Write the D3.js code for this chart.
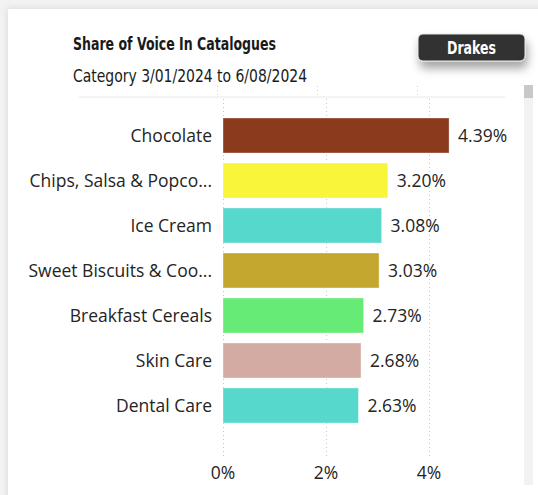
<!DOCTYPE html>
<html>
<head>
<meta charset="utf-8">
<script src="https://cdn.jsdelivr.net/npm/d3@7/dist/d3.min.js"></script>
<style>
  html, body { margin: 0; padding: 0; background: #f2f2f2; }
  svg { display: block; }
</style>
</head>
<body>
<svg id="chart" width="538" height="495"></svg>
<script>
// Share of voice by category
const categories = [
  "Chocolate",
  "Chips, Salsa & Popco...",
  "Ice Cream",
  "Sweet Biscuits & Coo...",
  "Breakfast Cereals",
  "Skin Care",
  "Dental Care"
];
const shares = [4.39, 3.20, 3.08, 3.03, 2.73, 2.68, 2.63];
const barColors = ["#8B3A1E", "#F9F53A", "#56D8CD", "#C4A72F", "#66EB76", "#D4ABA3", "#56D8CD"];
const tickValues = [0, 2, 4];
const tickLabels = ["0%", "2%", "4%"];

const title = "Share of Voice In Catalogues";
const subtitle = "Category 3/01/2024 to 6/08/2024";
const buttonLabel = "Drakes";

const svg = d3.select("#chart");
const textColor = "#252423";
const labelFont = "'Open Sans', 'Noto Sans', sans-serif";
const labelSize = 17.5;
const headFont = "'Liberation Sans Narrow', 'DejaVu Sans Condensed', sans-serif";

const defs = svg.append("defs");
const cardShadow = defs.append("filter").attr("id", "cardShadow")
  .attr("x", "-10%").attr("y", "-10%").attr("width", "130%").attr("height", "130%");
cardShadow.append("feDropShadow").attr("dx", 0).attr("dy", 0)
  .attr("stdDeviation", 3).attr("flood-color", "#000").attr("flood-opacity", 0.12);

const btnShadow = defs.append("filter").attr("id", "btnShadow")
  .attr("x", "-30%").attr("y", "-50%").attr("width", "160%").attr("height", "250%");
btnShadow.append("feDropShadow").attr("dx", 2).attr("dy", 7)
  .attr("stdDeviation", 5).attr("flood-color", "#000").attr("flood-opacity", 0.35);

// page background and card
svg.append("rect").attr("width", 538).attr("height", 495).attr("fill", "#f2f2f2");
svg.append("rect").attr("x", 8).attr("y", 9).attr("width", 560).attr("height", 520)
  .attr("fill", "#ffffff").attr("filter", "url(#cardShadow)");

// scales
const x = d3.scaleLinear().domain([0, 4]).range([223, 429]);
const y = d3.scaleBand().domain(categories).range([113, 428])
  .paddingInner(0.2222).paddingOuter(0.1111);
// header row sits on a slightly narrower scale
const xHead = d3.scaleLinear().domain([0, 4]).range([217, 417]);

// header rule and its short dotted ticks
svg.append("line").attr("x1", 79).attr("x2", 505).attr("y1", 97).attr("y2", 97)
  .attr("stroke", "#e8e8e8").attr("stroke-width", 1);
svg.append("g").selectAll("line").data(tickValues).join("line")
  .attr("x1", d => xHead(d) + 0.5).attr("x2", d => xHead(d) + 0.5)
  .attr("y1", 86).attr("y2", 97)
  .attr("stroke", "#d0d0d0").attr("stroke-dasharray", "1,3");

// vertical dotted gridlines
svg.append("g").selectAll("line").data(tickValues).join("line")
  .attr("x1", d => x(d) + 0.5).attr("x2", d => x(d) + 0.5)
  .attr("y1", 99).attr("y2", 457)
  .attr("stroke", "#c8c8c8").attr("stroke-dasharray", "1,3");

// bars
svg.append("g").selectAll("rect").data(categories).join("rect")
  .attr("x", x(0))
  .attr("y", d => y(d))
  .attr("width", (d, i) => x(shares[i]) - x(0))
  .attr("height", y.bandwidth())
  .attr("fill", (d, i) => barColors[i])
  .attr("stroke", "#ffffff").attr("stroke-opacity", 0.35).attr("stroke-width", 1);

// category labels
svg.append("g").selectAll("text").data(categories).join("text")
  .attr("x", 212)
  .attr("y", d => y(d) + y.bandwidth() / 2)
  .attr("dy", "0.35em")
  .attr("text-anchor", "end")
  .attr("font-family", labelFont).attr("font-size", labelSize)
  .attr("fill", textColor)
  .text(d => d);

// value labels
svg.append("g").selectAll("text").data(categories).join("text")
  .attr("x", (d, i) => x(shares[i]) + 9)
  .attr("y", d => y(d) + y.bandwidth() / 2)
  .attr("dy", "0.35em")
  .attr("font-family", labelFont).attr("font-size", labelSize)
  .attr("fill", textColor)
  .text((d, i) => shares[i].toFixed(2) + "%");

// x axis tick labels
svg.append("g").selectAll("text").data(tickValues).join("text")
  .attr("x", d => x(d))
  .attr("y", 479)
  .attr("text-anchor", "middle")
  .attr("font-family", labelFont).attr("font-size", labelSize)
  .attr("fill", textColor)
  .text((d, i) => tickLabels[i]);

// title and subtitle
svg.append("text").attr("x", 73).attr("y", 50)
  .attr("font-family", headFont).attr("font-weight", "bold").attr("font-size", 18)
  .attr("textLength", 203).attr("lengthAdjust", "spacingAndGlyphs")
  .attr("fill", "#1a1a1a").text(title);
svg.append("text").attr("x", 73).attr("y", 81.5)
  .attr("font-family", headFont).attr("font-size", 18)
  .attr("textLength", 234).attr("lengthAdjust", "spacingAndGlyphs")
  .attr("fill", "#1a1a1a").text(subtitle);

// slicer button
const btn = svg.append("g");
btn.append("rect").attr("x", 418).attr("y", 34).attr("width", 107).attr("height", 27)
  .attr("rx", 5).attr("fill", "#333333").attr("stroke", "#dfe8df").attr("stroke-width", 1)
  .attr("filter", "url(#btnShadow)");
btn.append("text").attr("x", 471.5).attr("y", 53.5)
  .attr("text-anchor", "middle")
  .attr("font-family", headFont).attr("font-weight", "bold").attr("font-size", 18)
  .attr("textLength", 49).attr("lengthAdjust", "spacingAndGlyphs")
  .attr("fill", "#ffffff").text(buttonLabel);

// scrollbar
svg.append("rect").attr("x", 524).attr("y", 85).attr("width", 9).attr("height", 400)
  .attr("fill", "#f2f2f2");
svg.append("rect").attr("x", 524).attr("y", 85).attr("width", 9).attr("height", 13)
  .attr("fill", "#c8c8c8");
</script>
</body>
</html>
